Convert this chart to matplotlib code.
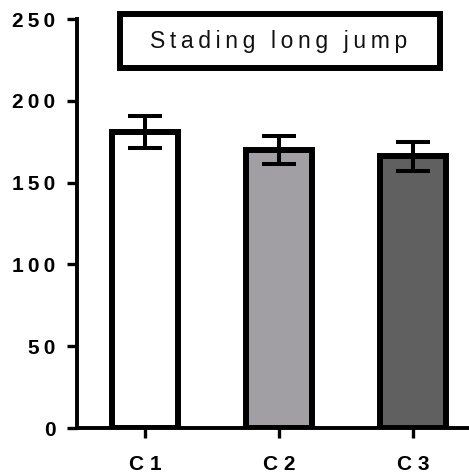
import matplotlib
matplotlib.use('Agg')
import matplotlib.pyplot as plt
from matplotlib.patches import Rectangle

# data
categories = ['C1', 'C2', 'C3']
means = [181, 170, 166]
sds = [10, 8.6, 9]
colors = ['#ffffff', '#a19fa4', '#606060']
yticks = [0, 50, 100, 150, 200, 250]
title = 'Stading long jump'

plt.rcParams['font.family'] = ['Liberation Sans', 'DejaVu Sans']


def spaced(s, sep='\u2009'):
    # Prism-style letter spacing
    return sep.join(s)


fig = plt.figure(figsize=(4.69, 4.75), dpi=100)
ax = fig.add_axes([0.1642, 0.0989, 0.859, 0.861])

x = range(len(categories))
ax.bar(x, means, width=0.49, color=colors, edgecolor='black', linewidth=4.3, zorder=2)
ax.errorbar(x, means, yerr=sds, fmt='none', ecolor='black', elinewidth=2.9,
            capsize=12, capthick=2.9, zorder=3)

ax.set_xlim(-0.507, 2.5)
ax.set_ylim(0, 250)

ax.set_yticks(yticks)
ax.set_yticklabels([spaced(str(t)) for t in yticks], fontsize=15, fontweight='bold')
ax.set_xticks(list(x))
ax.set_xticklabels([c[0] + ' ' + c[1:] for c in categories], fontsize=15, fontweight='bold')
ax.tick_params(axis='both', width=2.4, length=7.5, color='black')
ax.tick_params(axis='y', pad=8)
ax.tick_params(axis='x', pad=12)

for side in ['top', 'right']:
    ax.spines[side].set_visible(False)
for side in ['left', 'bottom']:
    ax.spines[side].set_linewidth(2.8)
ax.spines['bottom'].set_clip_on(False)

# title box
box = Rectangle((0.1067, 0.880), 0.794, 0.132, transform=ax.transAxes,
                fill=False, edgecolor='black', linewidth=4.3, clip_on=False, zorder=4)
ax.add_patch(box)
ax.text(0.5, 0.946, spaced(title), transform=ax.transAxes, ha='center',
        va='center', fontsize=16.5, color='#111111')

fig.savefig('out.png', dpi=100)
